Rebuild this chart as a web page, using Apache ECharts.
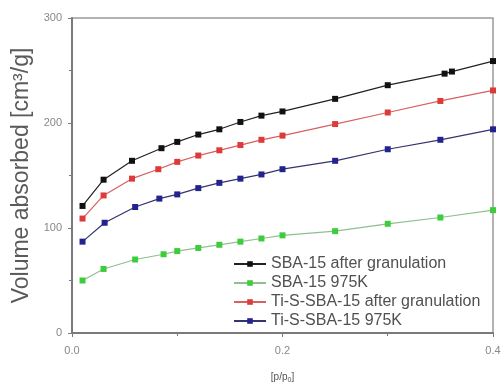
<!DOCTYPE html>
<html lang="en">
<head>
    <meta charset="UTF-8">
    <title>Isotherms</title>
    <script src="https://cdn.jsdelivr.net/npm/echarts@6/dist/echarts.min.js"></script>
    <style type="text/css">
        body{ margin:0; background:#fff; }
    </style>
</head>
<body>
<div id="main" style="width: 504px;height:383px;"></div>
<script type="text/javascript">
    // 数据 (p/p0, 吸附量)
    var names = ['SBA-15 after granulation', 'SBA-15 975K', 'Ti-S-SBA-15 after granulation', 'Ti-S-SBA-15 975K'];
    var xBlack = [0.01, 0.03, 0.057, 0.085, 0.10, 0.12, 0.14, 0.16, 0.18, 0.20, 0.25, 0.30, 0.354, 0.361, 0.40];
    var yBlack = [121, 146, 164, 176, 182, 189, 194, 201, 207, 211, 223, 236, 247, 249, 259];
    var xGreen = [0.01, 0.03, 0.06, 0.087, 0.10, 0.12, 0.14, 0.16, 0.18, 0.20, 0.25, 0.30, 0.35, 0.40];
    var yGreen = [50, 61, 70, 75, 78, 81, 84, 87, 90, 93, 97, 104, 110, 117];
    var xRed = [0.01, 0.03, 0.057, 0.082, 0.10, 0.12, 0.14, 0.16, 0.18, 0.20, 0.25, 0.30, 0.35, 0.40];
    var yRed = [109, 131, 147, 156, 163, 169, 174, 179, 184, 188, 199, 210, 221, 231];
    var xBlue = [0.01, 0.031, 0.06, 0.083, 0.10, 0.12, 0.14, 0.16, 0.18, 0.20, 0.25, 0.30, 0.35, 0.40];
    var yBlue = [87, 105, 120, 128, 132, 138, 143, 147, 151, 156, 164, 175, 184, 194];

    var colors = ['#111111', '#3ccc3c', '#dd3a3a', '#23238f'];
    var lineColors = ['#222222', '#8fbf8f', '#d86060', '#34346f'];

    function pairs(xs, ys){
        var res = [];
        for (var i = 0; i < xs.length; i++) {
            res.push([xs[i], ys[i]]);
        }
        return res;
    }
    var allData = [pairs(xBlack, yBlack), pairs(xGreen, yGreen), pairs(xRed, yRed), pairs(xBlue, yBlue)];

    var series = [];
    for (var k = 0; k < names.length; k++) {
        series.push({
            name: names[k],
            type: 'line',
            data: allData[k],
            symbol: 'rect',
            symbolSize: 6,
            itemStyle: { color: colors[k] },
            lineStyle: { color: lineColors[k], width: 1.2 }
        });
    }

    var axisGray = '#7a7a7a';
    var myChart = echarts.init(document.getElementById('main'));
    var option = {
        animation: false,
        grid: {
            left: 72, right: 11, top: 18, bottom: 50,
            outerBoundsMode: 'none',
            containLabel: false,
            show: true, borderColor: '#9a9a9a', borderWidth: 1.5
        },
        legend: {
            orient: 'vertical',
            left: 228, top: 251,
            itemWidth: 32, itemHeight: 7,
            itemGap: 3,
            data: names,
            textStyle: { fontFamily: 'Liberation Sans', fontSize: 16, color: '#505050' }
        },
        xAxis: {
            type: 'value',
            min: 0, max: 0.4, interval: 0.2,
            name: '[p/p{sub|0}]',
            nameLocation: 'middle',
            nameGap: 38,
            nameTextStyle: {
                fontFamily: 'Liberation Sans', fontSize: 10, color: '#555',
                rich: { sub: { fontSize: 7, verticalAlign: 'bottom', padding: [6, 0, 0, 0], color: '#555' } }
            },
            axisLine: { lineStyle: { color: axisGray, width: 2 } },
            axisTick: { inside: false, length: 4, lineStyle: { color: axisGray } },
            minorTick: { show: true, splitNumber: 2, length: 3, lineStyle: { color: axisGray } },
            splitLine: { show: false },
            axisLabel: {
                margin: 12, fontFamily: 'Liberation Sans', fontSize: 11, color: '#888',
                formatter: function (v) { return v.toFixed(1); }
            }
        },
        yAxis: {
            type: 'value',
            min: 0, max: 300, interval: 100,
            name: 'Volume absorbed [cm³/g]',
            nameLocation: 'middle',
            nameGap: 35,
            nameTextStyle: { fontFamily: 'Liberation Sans', fontSize: 23, color: '#5a5a5a' },
            axisLine: { show: true, lineStyle: { color: axisGray, width: 2 } },
            axisTick: { inside: false, length: 4, lineStyle: { color: axisGray } },
            minorTick: { show: true, splitNumber: 2, length: 3, lineStyle: { color: axisGray } },
            splitLine: { show: false },
            axisLabel: { margin: 10, fontFamily: 'Liberation Sans', fontSize: 11, color: '#888' }
        },
        series: series
    };
    myChart.setOption(option);
</script>
</body>
</html>
